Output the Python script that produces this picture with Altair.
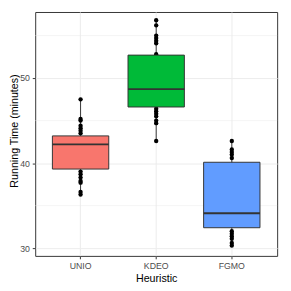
import altair as alt
import pandas as pd

cats = ["UNIO", "KDEO", "FGMO"]
colors = ["#F8766D", "#00BA38", "#619CFF"]

# box summaries
mins = [36.3, 42.6, 30.3]
q1s = [39.3, 46.6, 32.4]
meds = [42.2, 48.7, 34.1]
q3s = [43.2, 52.7, 40.1]
maxs = [47.5, 56.8, 42.6]

# visible individual points
unio_pts = [47.5, 45.2, 45.0, 44.4, 44.1, 43.8, 43.5, 39.0, 38.7, 38.3, 37.9, 37.7, 36.6, 36.3]
kdeo_pts = [56.8, 56.2, 55.0, 54.7, 54.4, 54.1, 52.8, 46.4, 46.1, 45.8, 45.5, 45.0, 44.7, 42.6]
fgmo_pts = [42.6, 41.6, 41.3, 41.0, 40.6, 32.0, 31.7, 31.4, 31.1, 30.6, 30.3]

y_ticks = [30, 40, 50]
minor_ticks = [35, 45, 55]

summary = pd.DataFrame({"cat": cats, "lo": mins, "q1": q1s, "med": meds, "q3": q3s, "hi": maxs})
points = pd.DataFrame({
    "cat": ["UNIO"] * len(unio_pts) + ["KDEO"] * len(kdeo_pts) + ["FGMO"] * len(fgmo_pts),
    "val": unio_pts + kdeo_pts + fgmo_pts,
})
minor = pd.DataFrame({"v": minor_ticks})

yscale = alt.Scale(domain=[29.086, 57.771], nice=False, zero=False)
xscale = alt.Scale(domain=cats, paddingInner=0, paddingOuter=0.1)

xaxis = alt.Axis(
    title="Heuristic", labelFontSize=9, labelColor="#4D4D4D", tickColor="#333333",
    tickSize=3, labelPadding=3, labelAngle=0, domain=False, grid=True, gridColor="#EBEBEB",
    gridWidth=1, bandPosition=0.5, titleFontSize=11, titleFontWeight="normal",
    titleColor="black", titleBaseline="alphabetic", titleY=26,
)
yaxis = alt.Axis(
    title="Running Time (minutes)", values=y_ticks, labelFontSize=9, labelColor="#4D4D4D",
    tickColor="#333333", tickSize=3, labelPadding=3, domain=False, grid=True,
    gridColor="#EBEBEB", gridWidth=1, titleFontSize=11, titleFontWeight="normal",
    titleColor="black", titleBaseline="alphabetic", titleX=-18, titleY=122, titleAlign="center",
)


def X():
    return alt.X("cat:N", sort=cats, scale=xscale, axis=xaxis, title="Heuristic")


def Y(field):
    return alt.Y(field, scale=yscale, axis=yaxis, title="Running Time (minutes)")


minor_layer = alt.Chart(minor).mark_rule(color="#EBEBEB", strokeWidth=0.5).encode(
    y=Y("v:Q")
)

whisk = alt.Chart(summary).mark_rule(color="#333333", strokeWidth=1).encode(
    x=X(), y=Y("lo:Q"), y2="hi:Q"
)

pts = alt.Chart(points).mark_circle(size=20, color="black", opacity=1).encode(
    x=X(), y=Y("val:Q")
)

box = alt.Chart(summary).mark_bar(size=58, stroke="#333333", strokeWidth=1, opacity=1).encode(
    x=X(), y=Y("q1:Q"), y2="q3:Q",
    color=alt.Color("cat:N", scale=alt.Scale(domain=cats, range=colors), legend=None),
)

med = alt.Chart(summary).mark_tick(size=58, thickness=2, color="#333333", opacity=1).encode(
    x=X(), y=Y("med:Q")
)

chart = alt.layer(minor_layer, whisk, pts, box, med).properties(
    width=249, height=251,
    autosize=alt.AutoSizeParams(type="none"),
    padding={"left": 28, "top": 0, "right": 6, "bottom": 32},
).configure(font="Liberation Sans").configure_axis(
    labelColor="#4D4D4D"
).configure_view(stroke="#333333", strokeWidth=1)

chart.save("out.html", embed_options={"renderer": "svg", "actions": False})
